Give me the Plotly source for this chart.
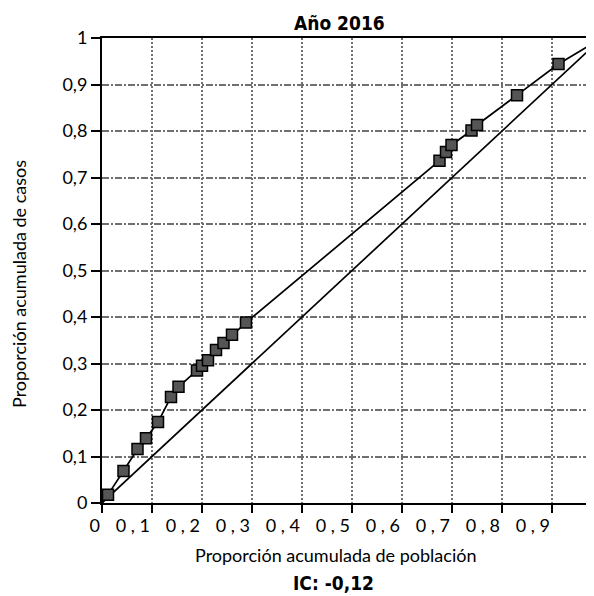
import plotly.graph_objects as go

# Data (Lorenz-type concentration curve, año 2016)
prop_poblacion = [0.012, 0.043, 0.071, 0.088, 0.112, 0.138, 0.153, 0.190, 0.200, 0.212,
                  0.228, 0.243, 0.260, 0.288, 0.675, 0.688, 0.699, 0.739, 0.750, 0.830, 0.913]
prop_casos = [0.018, 0.069, 0.116, 0.139, 0.174, 0.228, 0.250, 0.285, 0.295, 0.307,
              0.329, 0.344, 0.362, 0.388, 0.736, 0.755, 0.770, 0.801, 0.813, 0.877, 0.944]
igualdad = [0, 1]

x_tick_vals = [0, 0.1, 0.2, 0.3, 0.4, 0.5, 0.6, 0.7, 0.8, 0.9]
x_tick_text = ["0", "0 , 1", "0 , 2", "0 , 3", "0 , 4", "0 , 5", "0 , 6", "0 , 7", "0 , 8", "0 , 9"]
y_tick_vals = [0, 0.1, 0.2, 0.3, 0.4, 0.5, 0.6, 0.7, 0.8, 0.9, 1]
y_tick_text = ["0", "0,1", "0,2", "0,3", "0,4", "0,5", "0,6", "0,7", "0,8", "0,9", "1"]

titulo = "Año 2016"
titulo_x = "Proporción acumulada de población"
titulo_y = "Proporción acumulada de casos"
indice = "IC: -0,12"

FONT = "Lato, 'Liberation Sans', sans-serif"
BOLD = "'Liberation Sans Narrow', 'DejaVu Sans Condensed', Lato, sans-serif"

W, H = 594, 596
ML, MR, MT, MB = 94, 0, 30, 101
PW, PH = W - ML - MR, H - MT - MB


def px(fx):
    return (fx - ML) / PW


def py(fy):
    return 1 - (fy - MT) / PH


curva_x = [0] + prop_poblacion + [1]
curva_y = [0] + prop_casos + [1]

fig = go.Figure()
fig.add_trace(go.Scatter(x=igualdad, y=igualdad, mode="lines",
                         line=dict(color="black", width=1.7), hoverinfo="skip",
                         showlegend=False))
fig.add_trace(go.Scatter(x=curva_x, y=curva_y, mode="lines",
                         line=dict(color="black", width=1.7), hoverinfo="skip",
                         showlegend=False))
fig.add_trace(go.Scatter(x=prop_poblacion, y=prop_casos, mode="markers",
                         marker=dict(symbol="square", size=11, color="#555555",
                                     line=dict(color="black", width=1.5)),
                         showlegend=False, cliponaxis=False))

fig.update_layout(
    width=W, height=H,
    margin=dict(l=ML, r=MR, t=MT, b=MB),
    paper_bgcolor="white", plot_bgcolor="white",
    font=dict(family=FONT, size=18, color="black"),
)
fig.update_xaxes(
    range=[0, 1], tickmode="array", tickvals=x_tick_vals, ticktext=x_tick_text,
    ticks="outside", ticklen=8, tickwidth=2, tickcolor="black",
    ticklabelposition="outside left", ticklabelstandoff=5,
    showline=True, linecolor="black", linewidth=2, mirror=True,
    showgrid=True, gridcolor="#707070", gridwidth=1.6, griddash="2px,2px",
    zeroline=False, tickfont=dict(size=18),
)
fig.update_yaxes(
    range=[0, 1], tickmode="array", tickvals=y_tick_vals, ticktext=y_tick_text,
    ticks="outside", ticklen=9, tickwidth=2, tickcolor="black",
    showline=True, linecolor="black", linewidth=2,
    showgrid=True, gridcolor="#707070", gridwidth=1.6, griddash="7px,2px,2px,2px",
    zeroline=False, tickfont=dict(size=18),
)

# Texts positioned in figure pixels (page offset of 8 px compensated)
fig.add_annotation(text="<b>" + titulo + "</b>", xref="paper", yref="paper",
                   x=px(331), y=py(15), xanchor="center", yanchor="middle",
                   showarrow=False, font=dict(family=BOLD, size=19, color="black"))
fig.add_annotation(text=titulo_x, xref="paper", yref="paper",
                   x=px(327), y=py(547), xanchor="center", yanchor="middle",
                   showarrow=False, font=dict(family=FONT, size=18, color="black"))
fig.add_annotation(text=titulo_y, xref="paper", yref="paper", textangle=-90,
                   x=px(11), y=py(276), xanchor="center", yanchor="middle",
                   showarrow=False, font=dict(family=FONT, size=18, color="black"))
fig.add_annotation(text="<b>" + indice + "</b>", xref="paper", yref="paper",
                   x=px(325), y=py(575), xanchor="center", yanchor="middle",
                   showarrow=False, font=dict(family=BOLD, size=19, color="black"))

fig.write_html("out.html")
